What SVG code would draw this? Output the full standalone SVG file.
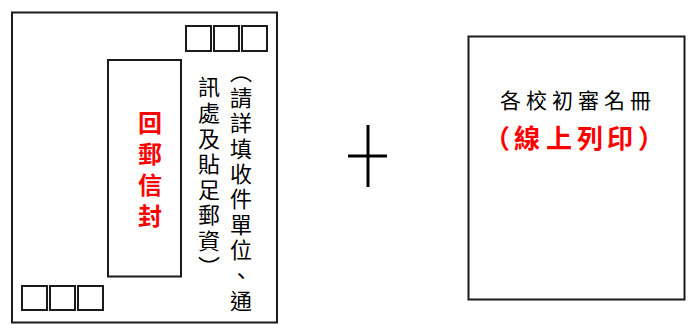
<svg xmlns="http://www.w3.org/2000/svg" width="693" height="325" viewBox="0 0 693 325">
<style>
.box{fill:#fff;stroke:#1a1a1a;stroke-width:2}
.stamp{fill:none;stroke:#1a1a1a;stroke-width:2}
.blk{font-family:"Noto Sans CJK TC","Noto Sans CJK SC",sans-serif;fill:#000}
.red{font-family:"Noto Sans CJK TC","Noto Sans CJK SC",sans-serif;fill:#ff0000;font-weight:bold}
.vert{writing-mode:vertical-rl}
</style>
<rect width="693" height="325" fill="#fff"/>
<g id="envelope">
<rect class="box" x="12" y="12.5" width="265" height="310"/>
<rect class="stamp" x="186" y="26" width="25" height="25"/>
<rect class="stamp" x="214" y="26" width="25" height="25"/>
<rect class="stamp" x="242" y="26" width="25" height="25"/>
<rect class="stamp" x="22" y="286" width="25" height="24"/>
<rect class="stamp" x="50" y="286" width="25" height="24"/>
<rect class="stamp" x="78" y="286" width="25" height="24"/>
<rect class="box" x="108" y="60" width="73" height="216.5"/>
<text class="red vert" x="150" y="111" font-size="24" letter-spacing="7">回郵信封</text>
<text class="blk vert" x="241" y="61" font-size="22" letter-spacing="3.4">（請詳填收件單位、通</text>
<text class="blk vert" x="209" y="76" font-size="22" letter-spacing="3.6">訊處及貼足郵資）</text>
</g>
<g id="connectors">
<line x1="368" y1="125" x2="368" y2="187" stroke="#000" stroke-width="3"/>
<line x1="348" y1="156" x2="387" y2="156" stroke="#000" stroke-width="3"/>
</g>
<g id="list">
<rect class="box" x="468.5" y="36.5" width="216" height="263"/>
<text class="blk" x="578" y="108" font-size="21" letter-spacing="5" text-anchor="middle">各校初審名冊</text>
<text class="red" x="484 514 546 577 607 638" y="148" font-size="26">（線上列印）</text>
</g>
</svg>
